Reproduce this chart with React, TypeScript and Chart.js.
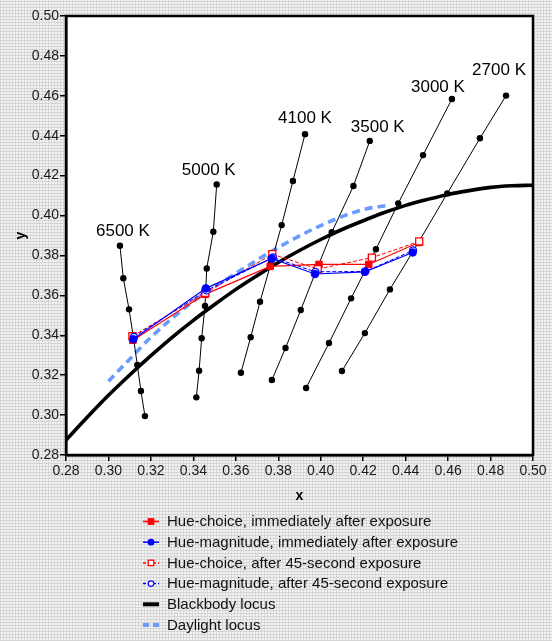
import React, { useEffect, useRef } from "react";
import { Chart, registerables } from "chart.js";

Chart.register(...registerables);

// ---------- tick labels ----------
const xTicks = [0.28, 0.3, 0.32, 0.34, 0.36, 0.38, 0.4, 0.42, 0.44, 0.46, 0.48, 0.5];
const yTicks = [0.28, 0.3, 0.32, 0.34, 0.36, 0.38, 0.4, 0.42, 0.44, 0.46, 0.48, 0.5];

// ---------- isotemperature lines ----------
const cctNames = ["6500 K", "5000 K", "4100 K", "3500 K", "3000 K", "2700 K"];
const iso6500X = [0.3054, 0.307, 0.3097, 0.3117, 0.3136, 0.3153, 0.3172];
const iso6500Y = [0.3849, 0.3686, 0.353, 0.3393, 0.3251, 0.3121, 0.2995];
const iso5000X = [0.351, 0.3494, 0.3463, 0.3455, 0.3439, 0.3427, 0.3414];
const iso5000Y = [0.4156, 0.3919, 0.3735, 0.3547, 0.3385, 0.3222, 0.3089];
const iso4100X = [0.3926, 0.3869, 0.3816, 0.3766, 0.3714, 0.367, 0.3624];
const iso4100Y = [0.4408, 0.4173, 0.3952, 0.3762, 0.3568, 0.339, 0.3212];
const iso3500X = [0.4231, 0.4154, 0.4052, 0.3978, 0.3906, 0.3834, 0.377];
const iso3500Y = [0.4374, 0.4148, 0.3916, 0.3722, 0.3527, 0.3336, 0.3176];
const iso3000X = [0.4618, 0.4482, 0.4365, 0.426, 0.4143, 0.4039, 0.3931];
const iso3000Y = [0.4584, 0.4303, 0.4061, 0.3831, 0.3585, 0.3361, 0.3136];
const iso2700X = [0.4873, 0.475, 0.4596, 0.4463, 0.4326, 0.4208, 0.41];
const iso2700Y = [0.4601, 0.4387, 0.4111, 0.387, 0.363, 0.3411, 0.3221];

// label offsets (px) from the top point of each isotemperature line
const cctLabelDx = [3, -8, 0, 8, -14, -7];
const cctLabelDy = [-14, -14, -16, -14, -12, -25];

// ---------- loci ----------
const blackbodyX = [0.28, 0.29, 0.3, 0.31, 0.32, 0.33, 0.34, 0.35, 0.36, 0.37, 0.38, 0.39, 0.4, 0.41, 0.42, 0.43, 0.44, 0.45, 0.46, 0.47, 0.48, 0.49, 0.5];
const blackbodyY = [0.2875, 0.2989, 0.3099, 0.3201, 0.3298, 0.339, 0.3475, 0.3554, 0.363, 0.3699, 0.3765, 0.3825, 0.388, 0.393, 0.3974, 0.4015, 0.4051, 0.408, 0.4106, 0.4125, 0.4141, 0.4149, 0.4152];
const daylightX = [0.3, 0.31, 0.32, 0.34, 0.36, 0.38, 0.4, 0.42, 0.431];
const daylightY = [0.317, 0.328, 0.339, 0.357, 0.371, 0.384, 0.395, 0.403, 0.405];

// ---------- experimental series (6500, 5000, 4100, 3500, 3000, 2700 K) ----------
const hueChoiceImmX = [0.3115, 0.3455, 0.3762, 0.3992, 0.4226, 0.4462];
const hueChoiceImmY = [0.3375, 0.3605, 0.3745, 0.3755, 0.3755, 0.3865];
const hueMagImmX = [0.3117, 0.3459, 0.3769, 0.3973, 0.4208, 0.4433];
const hueMagImmY = [0.338, 0.3635, 0.3785, 0.3707, 0.3718, 0.3815];
const hueChoice45X = [0.3113, 0.3456, 0.3772, 0.3986, 0.4241, 0.4464];
const hueChoice45Y = [0.3395, 0.3612, 0.3806, 0.3732, 0.3789, 0.387];
const hueMag45X = [0.312, 0.3462, 0.3775, 0.3975, 0.421, 0.4435];
const hueMag45Y = [0.3392, 0.3625, 0.379, 0.3718, 0.372, 0.3825];

const legendLabels = [
  "Hue-choice, immediately after exposure",
  "Hue-magnitude, immediately after exposure",
  "Hue-choice, after 45-second exposure",
  "Hue-magnitude, after 45-second exposure",
  "Blackbody locus",
  "Daylight locus",
];

const pts = (xs: number[], ys: number[]) => xs.map((x, i) => ({ x, y: ys[i] }));

const FONT = "'Liberation Sans', Arial, sans-serif";
const RED = "#ff0000";
const BLUE = "#0000ff";
const DAY = "#6a9cff";

export default function App() {
  const ref = useRef<HTMLCanvasElement | null>(null);

  useEffect(() => {
    const canvas = ref.current;
    if (!canvas) return;

    const isoX = [iso6500X, iso5000X, iso4100X, iso3500X, iso3000X, iso2700X];
    const isoY = [iso6500Y, iso5000Y, iso4100Y, iso3500Y, iso3000Y, iso2700Y];

    const isoSets = isoX.map((xs, i) => ({
      label: cctNames[i],
      data: pts(xs, isoY[i]),
      showLine: true,
      borderColor: "#000",
      borderWidth: 1,
      pointRadius: 3.2,
      pointBackgroundColor: "#000",
      pointBorderColor: "#000",
      pointBorderWidth: 0,
      order: 90,
    }));

    const datasets: any[] = [
      {
        label: legendLabels[0],
        data: pts(hueChoiceImmX, hueChoiceImmY),
        showLine: true,
        borderColor: RED,
        borderWidth: 1.2,
        pointStyle: "rect",
        pointRadius: 4.6,
        pointBackgroundColor: RED,
        pointBorderColor: RED,
        pointBorderWidth: 1,
        order: 4,
        legendKind: "redFilled",
      },
      {
        label: legendLabels[1],
        data: pts(hueMagImmX, hueMagImmY),
        showLine: true,
        borderColor: BLUE,
        borderWidth: 1.2,
        pointStyle: "circle",
        pointRadius: 3.8,
        pointBackgroundColor: BLUE,
        pointBorderColor: BLUE,
        pointBorderWidth: 1,
        order: 1,
        legendKind: "blueFilled",
      },
      {
        label: legendLabels[2],
        data: pts(hueChoice45X, hueChoice45Y),
        showLine: true,
        borderColor: RED,
        borderWidth: 1,
        borderDash: [4, 2],
        pointStyle: "rect",
        pointRadius: 5,
        pointBackgroundColor: "#fff",
        pointBorderColor: RED,
        pointBorderWidth: 1.3,
        order: 3,
        legendKind: "redOpen",
      },
      {
        label: legendLabels[3],
        data: pts(hueMag45X, hueMag45Y),
        showLine: true,
        borderColor: BLUE,
        borderWidth: 1,
        borderDash: [4, 2],
        pointStyle: "circle",
        pointRadius: 3.5,
        pointBackgroundColor: "#fff",
        pointBorderColor: BLUE,
        pointBorderWidth: 1.3,
        order: 2,
        legendKind: "blueOpen",
      },
      {
        label: legendLabels[4],
        data: pts(blackbodyX, blackbodyY),
        showLine: true,
        borderColor: "#000",
        borderWidth: 3.6,
        pointRadius: 0,
        cubicInterpolationMode: "monotone",
        order: 95,
        legendKind: "black",
      },
      {
        label: legendLabels[5],
        data: pts(daylightX, daylightY),
        showLine: true,
        borderColor: DAY,
        borderWidth: 3.6,
        borderDash: [8, 5],
        pointRadius: 0,
        cubicInterpolationMode: "monotone",
        order: 94,
        legendKind: "day",
      },
      ...isoSets,
    ];

    const decorPlugin = {
      id: "decor",
      beforeDraw(chart: any) {
        const { ctx, chartArea: a } = chart;
        ctx.save();
        ctx.fillStyle = "#fff";
        ctx.fillRect(a.left, a.top, a.right - a.left, a.bottom - a.top);
        ctx.restore();
      },
      afterDraw(chart: any) {
        const { ctx, chartArea: a, scales } = chart;
        const xs = scales.x;
        const ys = scales.y;
        ctx.save();
        // frame
        ctx.strokeStyle = "#000";
        ctx.lineWidth = 2.5;
        ctx.strokeRect(a.left, a.top, a.right - a.left, a.bottom - a.top);

        // CCT labels
        ctx.fillStyle = "#000";
        ctx.font = `17px ${FONT}`;
        ctx.textAlign = "center";
        ctx.textBaseline = "middle";
        isoX.forEach((arr, i) => {
          const px = xs.getPixelForValue(arr[0]) + cctLabelDx[i];
          const py = ys.getPixelForValue(isoY[i][0]) + cctLabelDy[i];
          ctx.fillText(cctNames[i], px, py);
        });

        // legend
        const x0 = 143;
        const x1 = 159;
        const tx = 167;
        const y0 = 521.5;
        const dy = 20.7;
        ctx.font = `15px ${FONT}`;
        ctx.textAlign = "left";
        ctx.textBaseline = "middle";
        datasets
          .filter((d) => d.legendKind)
          .forEach((d, i) => {
            const y = y0 + i * dy;
            const mx = (x0 + x1) / 2;
            ctx.save();
            ctx.strokeStyle = d.borderColor;
            if (d.legendKind === "black" || d.legendKind === "day") {
              ctx.lineWidth = 4;
              if (d.borderDash) ctx.setLineDash([6, 4]);
              ctx.beginPath();
              ctx.moveTo(x0, y);
              ctx.lineTo(x1, y);
              ctx.stroke();
            } else {
              ctx.lineWidth = 1.5;
              if (d.borderDash) ctx.setLineDash([3, 2]);
              ctx.beginPath();
              ctx.moveTo(x0, y);
              ctx.lineTo(x1, y);
              ctx.stroke();
              ctx.setLineDash([]);
              ctx.fillStyle = d.pointBackgroundColor;
              ctx.strokeStyle = d.pointBorderColor;
              ctx.lineWidth = 1.2;
              if (d.pointStyle === "rect") {
                const s = 5.5;
                ctx.fillRect(mx - s / 2, y - s / 2, s, s);
                ctx.strokeRect(mx - s / 2, y - s / 2, s, s);
              } else {
                ctx.beginPath();
                ctx.arc(mx, y, 2.8, 0, Math.PI * 2);
                ctx.fill();
                ctx.stroke();
              }
            }
            ctx.restore();
            ctx.fillStyle = "#111";
            ctx.fillText(d.label, tx, y + 0.5);
          });
        ctx.restore();
      },
    };

    const chart = new Chart(canvas, {
      type: "scatter",
      data: { datasets },
      options: {
        responsive: false,
        devicePixelRatio: 1,
        animation: false,
        events: [],
        layout: { padding: { left: 0, top: 16, right: 19, bottom: 136 } },
        plugins: {
          legend: { display: false },
          tooltip: { enabled: false },
          title: { display: false },
        },
        scales: {
          x: {
            type: "linear",
            min: 0.28,
            max: 0.5,
            afterBuildTicks: (scale: any) => {
              scale.ticks = xTicks.map((v) => ({ value: v }));
            },
            afterFit: (scale: any) => {
              scale.height = 50;
            },
            grid: {
              display: true,
              drawOnChartArea: false,
              drawTicks: true,
              tickLength: 6,
              color: "#000",
              lineWidth: 1.5,
            },
            border: { display: true, color: "#000", width: 2.5 },
            ticks: {
              color: "#1a1a1a",
              font: { family: FONT, size: 14 },
              padding: 2,
              maxRotation: 0,
              autoSkip: false,
              callback: (v: any) => Number(v).toFixed(2),
            },
            title: {
              display: true,
              text: "x",
              color: "#000",
              font: { family: FONT, size: 14, weight: "bold" },
              padding: { top: 0, bottom: 0 },
            },
          },
          y: {
            type: "linear",
            min: 0.28,
            max: 0.5,
            afterBuildTicks: (scale: any) => {
              scale.ticks = yTicks.map((v) => ({ value: v }));
            },
            afterFit: (scale: any) => {
              scale.width = 66;
            },
            grid: {
              display: true,
              drawOnChartArea: false,
              drawTicks: true,
              tickLength: 6,
              color: "#000",
              lineWidth: 1.5,
            },
            border: { display: true, color: "#000", width: 2.5 },
            ticks: {
              color: "#1a1a1a",
              font: { family: FONT, size: 14 },
              padding: 1,
              autoSkip: false,
              callback: (v: any) => Number(v).toFixed(2),
            },
            title: {
              display: true,
              text: "y",
              color: "#000",
              font: { family: FONT, size: 14, weight: "bold" },
              padding: { top: 13, bottom: 0 },
            },
          },
        },
      },
      plugins: [decorPlugin],
    } as any);

    return () => chart.destroy();
  }, []);

  return (
    <div
      style={{
        position: "fixed",
        left: 0,
        top: 0,
        width: 552,
        height: 641,
        backgroundColor: "#f3f3f3",
        backgroundImage:
          "repeating-linear-gradient(0deg, #d4d4d4 0px, #d4d4d4 1px, transparent 1px, transparent 3px), repeating-linear-gradient(90deg, #d9d9d9 0px, #d9d9d9 1px, transparent 1px, transparent 3px)",
      }}
    >
      <canvas ref={ref} width={552} height={641} style={{ display: "block", width: 552, height: 641 }} />
    </div>
  );
}
